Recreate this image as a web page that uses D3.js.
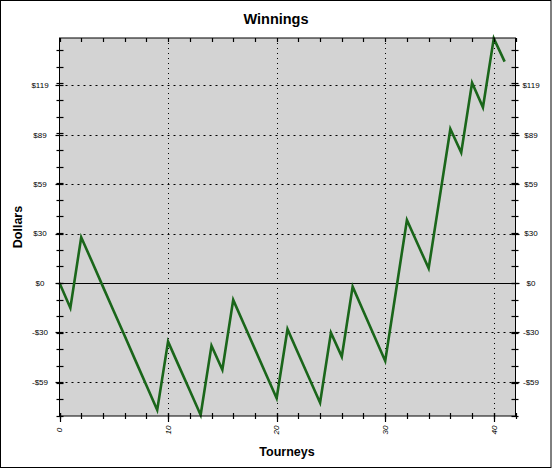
<!DOCTYPE html>
<html>
<head>
<meta charset="utf-8">
<script src="https://cdn.jsdelivr.net/npm/d3@7"></script>
<style>
body { margin:0; background:#fff; }
svg text { font-family: "Liberation Sans", Arial, sans-serif; }
</style>
</head>
<body>
<svg id="chart" width="552" height="469"></svg>
<script>
// cumulative winnings after each tourney
var tourneys = d3.range(0, 42);
var winnings = [0, -15, 27.5, 12.7, -2.2, -17, -31.8, -46.7, -61.5, -76.4,
	-35.3, -50, -64.7, -79.4, -37.7, -52.2, -10.2, -25, -39.8, -54.6,
	-69.3, -27.8, -42.6, -57.3, -72, -29.9, -44.3, -2.2, -17.1, -32,
	-46.9, -4.5, 37.9, 23.3, 8.8, 50.7, 92.6, 78.4, 120.4, 105.6,
	147.1, 133.1];

var xMajor = [0, 10, 20, 30, 40];
var xMinor = d3.range(0, 43, 2);
var yMajor = [-59.4, -29.7, 0, 29.7, 59.4, 89.1, 118.8];
var yLabels = ['-$59', '-$30', '$0', '$30', '$59', '$89', '$119'];
var yMinor = d3.range(-80, 141, 10);

var svg = d3.select('#chart');
var L = 59.5, R = 515.5, T = 38, B = 416;

var x = d3.scaleLinear().domain([0, 42]).range([L, R]);
var y = d3.scaleLinear().domain([-80, 147.3]).range([B, T]);

svg.append('rect').attr('x', 0.5).attr('y', 0.5).attr('width', 550.5).attr('height', 467)
	.style('fill', '#fff').style('stroke', '#000');

svg.append('rect').attr('x', L).attr('y', T).attr('width', R - L).attr('height', B - T)
	.style('fill', '#d3d3d3');

// grid
svg.selectAll('.vgrid').data(xMajor.filter(function (d) { return d > 0; })).enter()
	.append('line').attr('class', 'vgrid')
	.attr('x1', function (d) { return Math.round(x(d)) + 0.5; })
	.attr('x2', function (d) { return Math.round(x(d)) + 0.5; })
	.attr('y1', T).attr('y2', B)
	.style('stroke', '#000').style('stroke-dasharray', '1,4');

svg.selectAll('.hgrid').data(yMajor.filter(function (d) { return d != 0; })).enter()
	.append('line').attr('class', 'hgrid')
	.attr('x1', L).attr('x2', R)
	.attr('y1', function (d) { return Math.round(y(d)) + 0.5; })
	.attr('y2', function (d) { return Math.round(y(d)) + 0.5; })
	.style('stroke', '#000').style('stroke-dasharray', '2,4');

svg.append('line').attr('x1', L).attr('x2', R)
	.attr('y1', Math.round(y(0)) + 0.5).attr('y2', Math.round(y(0)) + 0.5)
	.style('stroke', '#000');

// line
var line = d3.line()
	.x(function (d, i) { return x(tourneys[i]); })
	.y(function (d) { return y(d); });

svg.append('path').datum(winnings).attr('d', line)
	.style('fill', 'none').style('stroke', '#1a661a').style('stroke-width', 2.6)
	.style('stroke-linejoin', 'miter');

// frame
svg.append('rect').attr('x', L).attr('y', T).attr('width', R - L).attr('height', B - T)
	.style('fill', 'none').style('stroke', '#000');

// axes
function tickLines(sel, vals, pos, attrA, attrB, a, b) {
	sel.selectAll(null).data(vals).enter().append('line')
		.attr(attrA + '1', function (d) { return Math.round(pos(d)) + 0.5; })
		.attr(attrA + '2', function (d) { return Math.round(pos(d)) + 0.5; })
		.attr(attrB + '1', a).attr(attrB + '2', b)
		.style('stroke', '#000').style('stroke-width', 1.2);
}
var ax = svg.append('g');
tickLines(ax, yMinor, y, 'y', 'x', L - 3, L + 4);
tickLines(ax, yMajor, y, 'y', 'x', L - 4, L + 4);
tickLines(ax, yMinor, y, 'y', 'x', R - 4, R + 3);
tickLines(ax, yMajor, y, 'y', 'x', R - 4, R + 4);
tickLines(ax, xMinor, x, 'x', 'y', B - 3, B + 3);
tickLines(ax, xMajor, x, 'x', 'y', B - 3, B + 6);
tickLines(ax, xMinor, x, 'x', 'y', T, T + 4);

svg.selectAll('.yl').data(yMajor).enter().append('text')
	.attr('x', 40).attr('y', function (d) { return y(d); })
	.attr('dy', '0.35em').style('text-anchor', 'middle').style('font-size', '8px')
	.text(function (d, i) { return yLabels[i]; });

svg.selectAll('.yr').data(yMajor).enter().append('text')
	.attr('x', 531).attr('y', function (d) { return y(d); })
	.attr('dy', '0.35em').style('text-anchor', 'middle').style('font-size', '8px')
	.text(function (d, i) { return yLabels[i]; });

svg.selectAll('.xl').data(xMajor).enter().append('text')
	.attr('transform', function (d) { return 'translate(' + x(d) + ',430) rotate(-90)'; })
	.attr('dy', '0.35em').style('text-anchor', 'middle').style('font-size', '8px')
	.style('font-style', 'italic')
	.text(function (d) { return d; });

svg.append('text').attr('x', 276).attr('y', 24).style('text-anchor', 'middle')
	.style('font-size', '14.5px').style('font-weight', 'bold').text('Winnings');

svg.append('text').attr('x', 287).attr('y', 456).style('text-anchor', 'middle')
	.style('font-size', '12.5px').style('font-weight', 'bold').text('Tourneys');

svg.append('text').attr('transform', 'translate(22,227) rotate(-90)').style('text-anchor', 'middle')
	.style('font-size', '12.5px').style('font-weight', 'bold').text('Dollars');
</script>
</body>
</html>
